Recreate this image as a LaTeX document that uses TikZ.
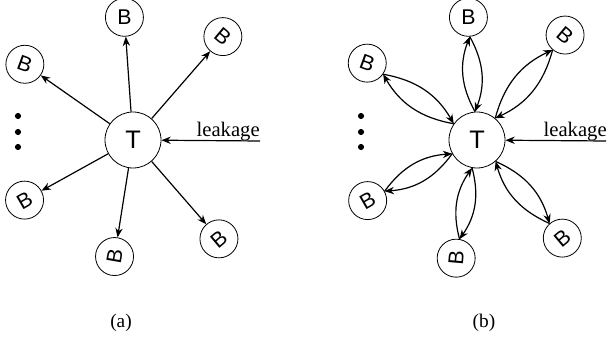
\documentclass[tikz,border=0pt]{standalone}
\usepackage{fontspec}
\usepackage{graphicx}
\setmainfont{Liberation Serif}
\newfontfamily\arialfont{Liberation Sans}
\usetikzlibrary{calc,arrows.meta}
\tikzset{
  x=0.75pt, y=0.75pt,
  circ_t/.style = {circle, draw=black, line width=0.6pt, minimum size=42pt, inner sep=0pt, font=\arialfont\fontsize{19}{19}\selectfont},
  circ_b/.style = {circle, draw=black, line width=0.6pt, minimum size=28.5pt, inner sep=0pt, font=\arialfont\fontsize{16}{16}\selectfont},
  arr_l/.style = {line width=0.9pt, -{Stealth[length=7pt,width=5.5pt]}},
  txt_l/.style = {inner sep=0pt, font=\fontsize{15.5}{15.5}\selectfont},
  txt_c/.style = {inner sep=0pt, font=\fontsize{14.5}{14.5}\selectfont}
}

\begin{document}
\begin{tikzpicture}
	\useasboundingbox (0,0) rectangle (610,339);

	\node [circ_t] (ta) at (133,199) {T};
	\foreach \n/\a/\d/\r in {1/94/123/0, 2/49/137/-40, 3/145/132/-20, 4/209/124/30, 5/261/118/80, 6/311/131/40}{
		\node [circ_b] (ba\n) at ($(ta)+(\a:\d)$) {\rotatebox{\r}{B}};
		\draw [arr_l] (ta) -- (ba\n);
	}
	\foreach \y in {192,207,223}
		\fill (18,\y) circle (2.3pt);
	\coordinate (lka) at (260,198);
	\node [txt_l, anchor=base east] (leaka) at (260,202) {leakage};
	\draw [arr_l] (lka) -- (ta);
	\node [txt_c] (capa) at (121,16) {(a)};

	\node [circ_t] (tb) at (477,199) {T};
	\foreach \n/\a/\d/\r [evaluate=\a as \ab using \a+180] in {1/94/123/0, 2/50/137/-40, 3/145/134/-20, 4/209/125/30, 5/260/120/85, 6/311/130/40}{
		\node [circ_b] (bb\n) at ($(tb)+(\a:\d)$) {\rotatebox{\r}{B}};
		\draw [arr_l] (tb.\a) to [bend left=25] (bb\n.\ab);
		\draw [arr_l] (bb\n.\ab) to [bend left=25] (tb.\a);
	}
	\foreach \y in {192,207,223}
		\fill (361,\y) circle (2.3pt);
	\coordinate (lkb) at (606,198);
	\node [txt_l, anchor=base east] (leakb) at (607,202) {leakage};
	\draw [arr_l] (lkb) -- (tb);
	\node [txt_c] (capb) at (484,16) {(b)};
\end{tikzpicture}
\end{document}
